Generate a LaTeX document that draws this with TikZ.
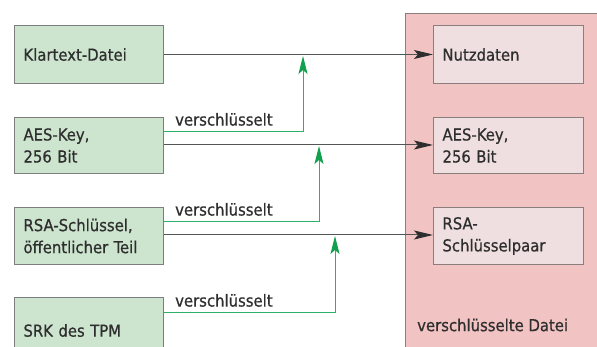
\documentclass[tikz,border=0pt]{standalone}
\usepackage{fontspec}
\setmainfont[FakeBold=0.6]{DejaVu Sans Condensed}
\usetikzlibrary{arrows.meta}

\definecolor{srcfill}{HTML}{CDE5CF}
\definecolor{boxline}{HTML}{7E7E7E}
\definecolor{filefill}{HTML}{F2C3C3}
\definecolor{partfill}{HTML}{EFDFE0}
\definecolor{partline}{HTML}{8A7D7E}
\definecolor{encline}{HTML}{2DB06A}
\definecolor{enctip}{HTML}{11A04C}
\definecolor{txt}{HTML}{2E2E2E}
\definecolor{flow}{HTML}{555555}

\tikzset{
  srcbox/.style={draw=boxline, line width=1pt, fill=srcfill, anchor=north west,
    minimum width=149pt, text width=131pt, inner xsep=9pt, align=left,
    text=txt, font=\fontsize{16.5}{22}\selectfont},
  partbox/.style={draw=partline, line width=1pt, fill=partfill, anchor=north west,
    minimum width=150pt, text width=132pt, inner xsep=9pt, align=left,
    text=txt, font=\fontsize{16.5}{22}\selectfont},
  flowline/.style={draw=flow, line width=1pt,
    -{Stealth[length=19pt,width=9pt,inset=4pt,color=txt,fill=txt]}},
  encpath/.style={draw=encline, line width=1pt,
    -{Stealth[length=18pt,width=9pt,inset=4pt,fill=enctip,color=enctip]}},
  enclabel/.style={anchor=south west, inner sep=0pt, text=txt,
    font=\fontsize{16.5}{18}\selectfont}
}

\begin{document}
\begin{tikzpicture}[x=1pt, y=-1pt]
  \useasboundingbox (0,0) rectangle (597,347);
  \clip (0,0) rectangle (597,347);

  % encrypted container (extends past the lower and right edges)
  \node[draw=partline, line width=1pt, fill=filefill, anchor=north west,
        minimum width=220pt, minimum height=360pt, inner sep=0pt] (file) at (405,13) {};
  \node[anchor=west, inner sep=0pt, text=txt, font=\fontsize{16.5}{18}\selectfont]
        (filelabel) at (417,325) {verschlüsselte Datei};

  % source objects
  \node[srcbox, minimum height=58pt] (plain) at (14,25) {Klartext-Datei};
  \node[srcbox, minimum height=56pt] (aes)   at (14,117) {AES-Key,\\256 Bit};
  \node[srcbox, minimum height=57pt] (rsa)   at (14,207) {RSA-Schlüssel,\\öffentlicher Teil};
  \node[srcbox, minimum height=66pt] (srk)   at (14,297) {SRK des TPM};

  % parts of the encrypted file
  \node[partbox, minimum height=58pt] (data)   at (433,25) {Nutzdaten};
  \node[partbox, minimum height=56pt] (aesenc) at (433,117) {AES-Key,\\256 Bit};
  \node[partbox, minimum height=57pt] (rsaenc) at (433,207) {RSA-\\Schlüsselpaar};

  % main data flow
  \draw[flowline] (plain.east) -- (data.west);
  \draw[flowline] (aes.east |- 0,145) -- (aesenc.west |- 0,145);
  \draw[flowline] (rsa.east |- 0,235) -- (rsaenc.west |- 0,235);

  % points where each key acts on the flow above it
  \coordinate (hit1) at (303,56);
  \coordinate (hit2) at (319,146);
  \coordinate (hit3) at (335,236);

  % encryption relations
  \draw[encpath] (aes.east |- 0,132) -| (hit1);
  \draw[encpath] (rsa.east |- 0,222) -| (hit2);
  \draw[encpath] (srk.east |- 0,313) -| (hit3);

  \node[enclabel] (lab1) at (175,126) {verschlüsselt};
  \node[enclabel] (lab2) at (175,216) {verschlüsselt};
  \node[enclabel] (lab3) at (175,307) {verschlüsselt};
\end{tikzpicture}
\end{document}
